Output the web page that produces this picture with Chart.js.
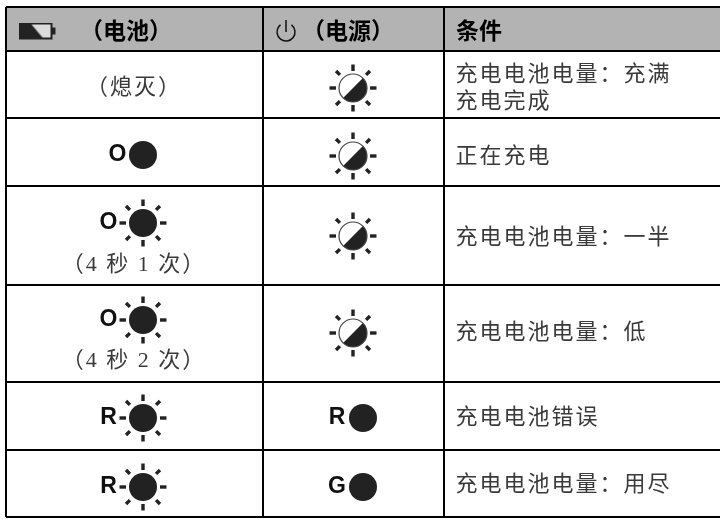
<!DOCTYPE html>
<html>
<head>
<meta charset="utf-8">
<script src="https://cdn.jsdelivr.net/npm/chart.js@4"></script>
<style>
  body { margin: 0; background: #fff; }
  canvas { display: block; }
</style>
</head>
<body>
<canvas id="statusChart" width="720" height="520"></canvas>
<script>
// Table content
const headers = ['（电池）', '（电源）', '条件'];
const batteryLetters = ['', 'O', 'O', 'O', 'R', 'R'];
const batteryMarks = ['', 'solid', 'blink', 'blink', 'blink', 'blink'];
const batteryNotes = ['（熄灭）', '', '（4 秒 1 次）', '（4 秒 2 次）', '', ''];
const powerLetters = ['', '', '', '', 'R', 'G'];
const powerMarks = ['half', 'half', 'half', 'half', 'solid', 'solid'];
const conditions = [
    ['充电电池电量：充满', '充电完成'],
    ['正在充电'],
    ['充电电池电量：一半'],
    ['充电电池电量：低'],
    ['充电电池错误'],
    ['充电电池电量：用尽']
];

// Table geometry, in the units of the two scales
const colEdges = [6, 263, 444, 720];
const rowEdges = [7, 51, 118, 186, 285, 382, 450, 517];
const headerX = [80, 302, 456];
const batteryMarkY = [0, 155, 223, 320, 418, 487];
const batteryNoteY = [88, 0, 265, 361, 0, 0];
const batteryLetterX = [0, 117.5, 108.5, 108.5, 108.5, 108.5];
const powerMarkY = [88, 156, 236, 333, 418, 487];
const conditionY = [[75, 102], [157], [238], [333], [418], [485]];

const INK = '#222222';
const BODY_FONT = '22px "Liberation Serif", "Noto Sans CJK SC", serif';
const HEAD_FONT = 'bold 23px "Noto Sans CJK SC", sans-serif';
const LETTER_FONT = 'bold 23px "Liberation Sans", sans-serif';

// Point images
function makeIcon(w, h, draw) {
    const c = document.createElement('canvas');
    c.width = w;
    c.height = h;
    draw(c.getContext('2d'), w / 2, h / 2);
    return c;
}

function drawRays(g, cx, cy) {
    g.strokeStyle = INK;
    g.lineWidth = 3.4;
    for (let i = 0; i < 8; i++) {
        const a = i * Math.PI / 4;
        const r0 = i % 2 ? 18.5 : 17;
        const r1 = i % 2 ? 24 : 23.5;
        g.beginPath();
        g.moveTo(cx + Math.cos(a) * r0, cy + Math.sin(a) * r0);
        g.lineTo(cx + Math.cos(a) * r1, cy + Math.sin(a) * r1);
        g.stroke();
    }
}

const blinkIcon = makeIcon(56, 56, (g, cx, cy) => {
    drawRays(g, cx, cy);
    g.fillStyle = INK;
    g.beginPath();
    g.arc(cx, cy, 14, 0, Math.PI * 2);
    g.fill();
});

const halfIcon = makeIcon(56, 56, (g, cx, cy) => {
    drawRays(g, cx, cy);
    g.fillStyle = INK;
    g.beginPath();
    g.arc(cx, cy, 14, -Math.PI / 4, Math.PI * 3 / 4);
    g.closePath();
    g.fill();
    g.strokeStyle = '#444';
    g.lineWidth = 1.2;
    g.beginPath();
    g.arc(cx, cy, 14, 0, Math.PI * 2);
    g.stroke();
});

const batteryIcon = makeIcon(38, 18, (g) => {
    g.fillStyle = INK;
    g.fillRect(0, 0, 34, 17);
    g.fillRect(34, 5, 3, 7);
    g.fillStyle = '#dcdcdc';
    g.beginPath();
    g.moveTo(13, 2);
    g.lineTo(32, 2);
    g.lineTo(32, 15);
    g.lineTo(24, 15);
    g.closePath();
    g.fill();
});

const powerIcon = makeIcon(22, 24, (g) => {
    g.strokeStyle = '#111';
    g.lineWidth = 1.5;
    g.beginPath();
    g.arc(11, 13, 9, -Math.PI / 2 + 0.65, -Math.PI / 2 - 0.65);
    g.stroke();
    g.beginPath();
    g.moveTo(11, 1);
    g.lineTo(11, 13);
    g.stroke();
});

// Points for each mark kind, one per table row that shows it
function marksOf(kind, marks, xValue, yValues) {
    return marks.flatMap((m, i) => (m === kind ? [{ x: xValue, y: yValues[i] }] : []));
}

const batteryX = 143;
const powerX = 353;
const powerSolidX = 363;

const solidPoints = [
    ...marksOf('solid', batteryMarks, batteryX, batteryMarkY),
    ...marksOf('solid', powerMarks, powerSolidX, powerMarkY)
];
const blinkPoints = marksOf('blink', batteryMarks, batteryX, batteryMarkY);
const halfPoints = marksOf('half', powerMarks, powerX, powerMarkY);

const tableText = {
    id: 'tableText',
    beforeDraw(chart) {
        const { ctx, scales: { x, y } } = chart;
        ctx.save();
        ctx.fillStyle = '#b3b3b3';
        ctx.fillRect(x.getPixelForValue(colEdges[0]), y.getPixelForValue(rowEdges[0]),
            x.getPixelForValue(colEdges[3]) - x.getPixelForValue(colEdges[0]),
            y.getPixelForValue(rowEdges[1]) - y.getPixelForValue(rowEdges[0]));
        ctx.restore();
    },
    afterDatasetsDraw(chart) {
        const { ctx, scales: { x, y } } = chart;
        const put = (text, px, py, font, align, color, spacing) => {
            ctx.font = font;
            ctx.textAlign = align;
            ctx.textBaseline = 'middle';
            ctx.fillStyle = color;
            ctx.letterSpacing = spacing;
            ctx.fillText(text, x.getPixelForValue(px), y.getPixelForValue(py));
        };
        ctx.save();
        headers.forEach((h, i) => put(h, headerX[i], 30, HEAD_FONT, 'left', '#000', '0px'));
        batteryNotes.forEach((note, i) => {
            if (note) put(note, 134, batteryNoteY[i], BODY_FONT, 'center', '#3a3a3a', '2px');
        });
        batteryLetters.forEach((l, i) => {
            if (l) put(l, batteryLetterX[i], batteryMarkY[i], LETTER_FONT, 'center', '#111', '0px');
        });
        powerLetters.forEach((l, i) => {
            if (l) put(l, 337, powerMarkY[i], LETTER_FONT, 'center', '#111', '0px');
        });
        conditions.forEach((lines, i) => {
            lines.forEach((line, j) => put(line, 455.5, conditionY[i][j], BODY_FONT, 'left', '#3a3a3a', '2px'));
        });
        ctx.restore();
    }
};

const edgeTicks = (edges) => (scale) => {
    scale.ticks = edges.map((value) => ({ value }));
};

new Chart(document.getElementById('statusChart').getContext('2d'), {
    type: 'scatter',
    data: {
        datasets: [
            { data: solidPoints, pointStyle: 'circle', pointRadius: 14, backgroundColor: INK, borderWidth: 0 },
            { data: blinkPoints, pointStyle: blinkIcon },
            { data: halfPoints, pointStyle: halfIcon },
            { data: [{ x: 37.5, y: 31.5 }], pointStyle: batteryIcon },
            { data: [{ x: 286, y: 31 }], pointStyle: powerIcon }
        ]
    },
    options: {
        responsive: false,
        animation: false,
        events: [],
        layout: { autoPadding: false, padding: { left: 6, top: 7, right: 0, bottom: 3 } },
        plugins: { legend: { display: false }, tooltip: { enabled: false } },
        scales: {
            x: {
                type: 'linear',
                min: colEdges[0],
                max: colEdges[3],
                afterBuildTicks: edgeTicks(colEdges.slice(0, 3)),
                ticks: { display: false },
                grid: { color: '#000', lineWidth: 2, drawTicks: false },
                border: { display: false }
            },
            y: {
                type: 'linear',
                reverse: true,
                min: rowEdges[0],
                max: rowEdges[7],
                afterBuildTicks: edgeTicks(rowEdges),
                ticks: { display: false },
                grid: { color: '#000', lineWidth: 2, drawTicks: false },
                border: { display: false }
            }
        }
    },
    plugins: [tableText]
});
</script>
</body>
</html>
